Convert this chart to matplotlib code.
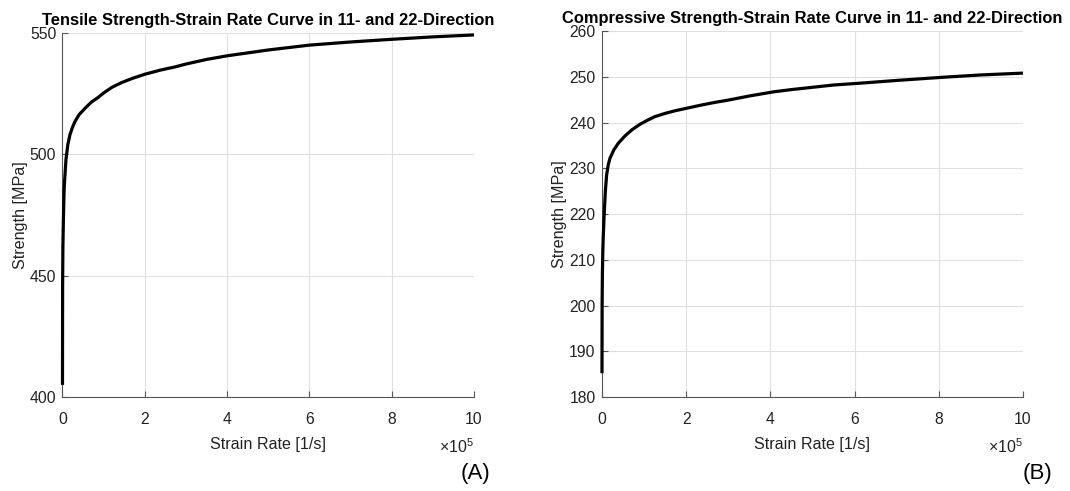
import matplotlib
matplotlib.use("Agg")
import matplotlib.pyplot as plt
import numpy as np

# strain rate [1/s] and strength [MPa]
tens_rate = [1, 300, 1000, 2000, 4000, 8500, 13000, 18000, 24000, 30000,
             40000, 55000, 70000, 87000, 100000, 120000, 144000, 170000,
             200000, 240000, 273000, 300000, 350000, 400000, 450000,
             500000, 550000, 600000, 700000, 800000, 900000, 1000000]
tens_str = [405, 445, 462, 471, 486, 498, 504, 508, 511, 513.4,
            516.3, 519, 521.5, 523.5, 525.3, 527.6, 529.6, 531.3,
            533, 534.8, 536, 537.2, 539.1, 540.6, 541.8,
            543, 544, 545, 546.3, 547.4, 548.4, 549.2]

comp_rate = [1, 300, 1000, 2000, 3000, 5000, 8000, 11000, 15000, 19000,
             28000, 39000, 55000, 71000, 90000, 110000, 126000, 150000,
             175000, 205000, 235000, 268000, 300000, 350000, 407000,
             450000, 500000, 550000, 613000, 700000, 811000, 900000, 1000000]
comp_str = [185.2, 200, 207, 212, 215, 219.5, 225, 228.5, 230.8, 232.2,
            234, 235.5, 237.1, 238.4, 239.6, 240.6, 241.3, 242.0,
            242.6, 243.2, 243.8, 244.4, 244.9, 245.8, 246.7,
            247.2, 247.7, 248.2, 248.6, 249.2, 249.9, 250.4, 250.8]

x_ticks = [0, 2e5, 4e5, 6e5, 8e5, 10e5]
x_ticklabels = ["0", "2", "4", "6", "8", "10"]
tens_yticks = [400, 450, 500, 550]
comp_yticks = [180, 190, 200, 210, 220, 230, 240, 250, 260]

plt.rcParams["font.family"] = ["Liberation Sans", "DejaVu Sans"]
plt.rcParams["mathtext.fontset"] = "custom"
plt.rcParams["mathtext.rm"] = "Liberation Sans"
plt.rcParams["mathtext.it"] = "Liberation Sans"

fig = plt.figure(figsize=(10.70, 4.91), dpi=100, facecolor="w")
ax1 = fig.add_axes([0.0584, 0.1914, 0.3846, 0.7414])
ax2 = fig.add_axes([0.5626, 0.1914, 0.3934, 0.7454])

panels = [
    (ax1, tens_rate, tens_str, tens_yticks, (400, 550),
     "Tensile Strength-Strain Rate Curve in 11- and 22-Direction", "(A)", 1.039),
    (ax2, comp_rate, comp_str, comp_yticks, (180, 260),
     "Compressive Strength-Strain Rate Curve in 11- and 22-Direction", "(B)", 1.071),
]

for ax, xr, ys, yt, ylim, title, tag, tagx in panels:
    ax.plot(xr, ys, color="black", linewidth=2.3, solid_capstyle="butt",
            solid_joinstyle="round", clip_on=False, zorder=3)
    ax.set_xlim(0, 1e6)
    ax.set_ylim(*ylim)
    ax.set_xticks(x_ticks)
    ax.set_xticklabels(x_ticklabels)
    ax.set_yticks(yt)
    ax.grid(True, color="#e0e0e0", linewidth=0.8)
    ax.set_axisbelow(True)
    for s in ["top", "right"]:
        ax.spines[s].set_visible(False)
    for s in ["left", "bottom"]:
        ax.spines[s].set_color("#555555")
        ax.spines[s].set_linewidth(0.8)
    ax.tick_params(direction="in", length=4, width=0.8, color="#555555",
                   labelsize=11.3, labelcolor="#222222")
    ax.tick_params(axis="x", pad=11)
    ax.tick_params(axis="y", pad=4.5)
    ax.set_xlabel("Strain Rate [1/s]", fontsize=11.6, color="#222222", labelpad=7)
    ax.set_ylabel("Strength [MPa]", fontsize=11.6, color="#222222")
    ax.yaxis.set_label_coords(-0.084, 0.5)
    ax.set_title(title, fontsize=11.9, fontweight="bold", pad=6)
    ax.text(1.0, -0.11, r"$\times10^5$", transform=ax.transAxes,
            ha="right", va="top", fontsize=11.5, color="#222222")
    ax.text(tagx, -0.181, tag, transform=ax.transAxes,
            ha="right", va="top", fontsize=16, color="black")

fig.savefig("out.png", dpi=100, facecolor="w")
